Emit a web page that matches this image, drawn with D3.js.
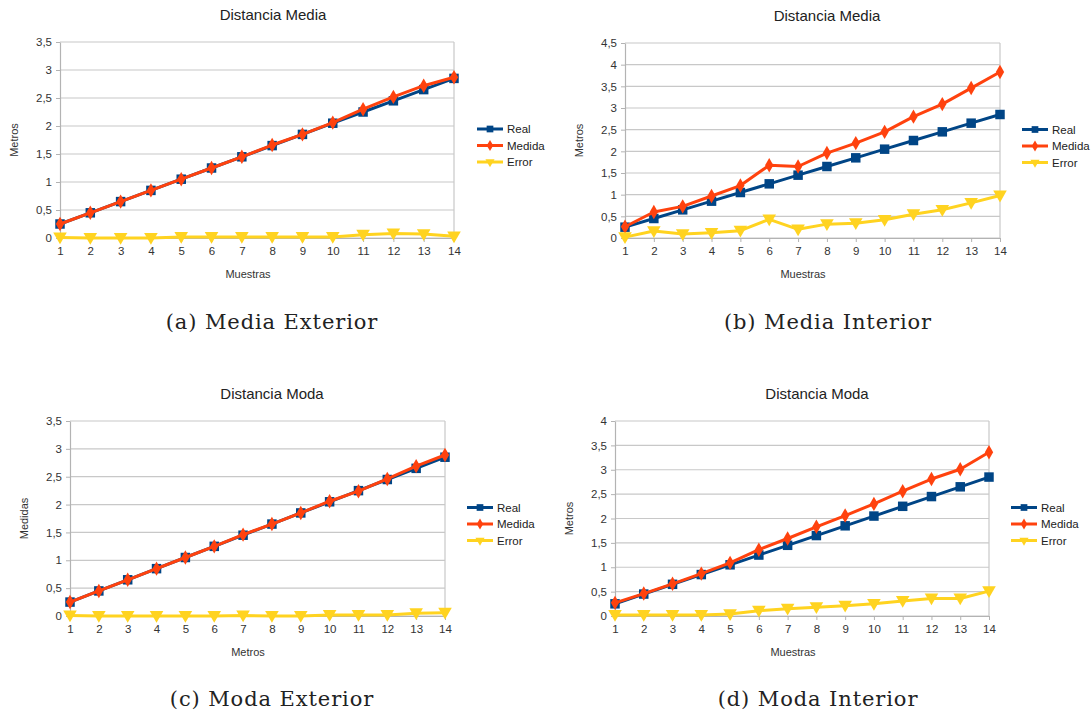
<!DOCTYPE html>
<html>
<head>
<meta charset="utf-8">
<script src="https://cdn.jsdelivr.net/npm/d3@7"></script>
<style>
  body { margin: 0; background: #fff; }
  svg { display: block; }
</style>
</head>
<body>
<div id="chart"></div>
<script>
// Datos
const muestras = [1, 2, 3, 4, 5, 6, 7, 8, 9, 10, 11, 12, 13, 14];
const real = [0.25, 0.45, 0.65, 0.85, 1.05, 1.25, 1.45, 1.65, 1.85, 2.05, 2.25, 2.45, 2.65, 2.85];

const medidaMediaExt = [0.25, 0.45, 0.65, 0.85, 1.05, 1.25, 1.45, 1.66, 1.85, 2.06, 2.30, 2.52, 2.72, 2.87];
const errorMediaExt  = [0.01, 0.00, 0.00, 0.00, 0.02, 0.02, 0.02, 0.02, 0.02, 0.02, 0.06, 0.08, 0.07, 0.03];

const medidaMediaInt = [0.26, 0.60, 0.73, 0.97, 1.21, 1.68, 1.65, 1.96, 2.19, 2.45, 2.80, 3.09, 3.46, 3.83];
const errorMediaInt  = [0.02, 0.16, 0.09, 0.12, 0.17, 0.43, 0.20, 0.32, 0.34, 0.42, 0.55, 0.65, 0.81, 0.98];

const medidaModaExt = [0.25, 0.45, 0.65, 0.85, 1.05, 1.25, 1.46, 1.65, 1.85, 2.06, 2.24, 2.46, 2.69, 2.89];
const errorModaExt  = [0.01, 0.00, 0.00, 0.00, 0.00, 0.00, 0.01, 0.00, 0.00, 0.02, 0.02, 0.02, 0.05, 0.06];

const medidaModaInt = [0.27, 0.46, 0.66, 0.87, 1.09, 1.36, 1.59, 1.83, 2.06, 2.30, 2.56, 2.81, 3.01, 3.36];
const errorModaInt  = [0.02, 0.02, 0.02, 0.02, 0.04, 0.11, 0.15, 0.18, 0.21, 0.25, 0.31, 0.36, 0.36, 0.51];

const ticksHasta35 = [0, 0.5, 1, 1.5, 2, 2.5, 3, 3.5];
const ticksHasta45 = [0, 0.5, 1, 1.5, 2, 2.5, 3, 3.5, 4, 4.5];
const ticksHasta4  = [0, 0.5, 1, 1.5, 2, 2.5, 3, 3.5, 4];

const nombresSeries = ["Real", "Medida", "Error"];
const colores = ["#004586", "#ff420e", "#ffd320"];
const simbolos = [d3.symbolSquare, d3.symbolDiamond, d3.symbolTriangle];

const paneles = [
    { titulo: "Distancia Media", ejeX: "Muestras", ejeY: "Metros", pie: "(a) Media Exterior",
      medida: medidaMediaExt, error: errorMediaExt, ticks: ticksHasta35,
      left: 60, right: 454, top: 42, bottom: 238, tituloX: 273, ejeXx: 248, ejeYx: 18, leyX: 477, pieX: 272, pieY: 329 },
    { titulo: "Distancia Media", ejeX: "Muestras", ejeY: "Metros", pie: "(b) Media Interior",
      medida: medidaMediaInt, error: errorMediaInt, ticks: ticksHasta45,
      left: 625, right: 1000, top: 43, bottom: 238, tituloX: 827, ejeXx: 803, ejeYx: 583, leyX: 1022, pieX: 828, pieY: 329 },
    { titulo: "Distancia Moda", ejeX: "Metros", ejeY: "Medidas", pie: "(c) Moda Exterior",
      medida: medidaModaExt, error: errorModaExt, ticks: ticksHasta35,
      left: 70, right: 445, top: 421, bottom: 616, tituloX: 272, ejeXx: 248, ejeYx: 28, leyX: 467, pieX: 272, pieY: 706 },
    { titulo: "Distancia Moda", ejeX: "Muestras", ejeY: "Metros", pie: "(d) Moda Interior",
      medida: medidaModaInt, error: errorModaInt, ticks: ticksHasta4,
      left: 615, right: 989, top: 421, bottom: 616, tituloX: 817, ejeXx: 793, ejeYx: 573, leyX: 1011, pieX: 818, pieY: 706 }
];

const svg = d3.select("#chart").append("svg")
    .attr("width", 1091)
    .attr("height", 717)
    .style("font-family", "'Liberation Sans', Arial, sans-serif");

const fmt = v => String(v).replace(".", ",");

paneles.forEach(p => drawPanel(p));

function drawPanel(p) {
    const g = svg.append("g");
    const x = d3.scalePoint().domain(muestras).range([p.left, p.right]);
    const y = d3.scaleLinear().domain([0, d3.max(p.ticks)]).range([p.bottom, p.top]);

    // rejilla
    g.selectAll(".grid").data(p.ticks).enter().append("line")
        .attr("x1", p.left).attr("x2", p.right)
        .attr("y1", d => y(d)).attr("y2", d => y(d))
        .attr("stroke", "#c8c8c8").attr("stroke-width", 1.2);
    g.append("line")
        .attr("x1", p.right).attr("x2", p.right)
        .attr("y1", p.top).attr("y2", p.bottom)
        .attr("stroke", "#c8c8c8").attr("stroke-width", 1.2);

    // ejes
    const ay = g.append("g")
        .attr("transform", `translate(${p.left},0)`)
        .call(d3.axisLeft(y).tickValues(p.ticks).tickFormat(fmt).tickSizeInner(4).tickSizeOuter(0).tickPadding(4));
    const ax = g.append("g")
        .attr("transform", `translate(0,${p.bottom})`)
        .call(d3.axisBottom(x).tickSizeInner(4).tickSizeOuter(0).tickPadding(5));
    [ay, ax].forEach(a => {
        a.select(".domain").attr("stroke", "#b3b3b3").attr("stroke-width", 1.2);
        a.selectAll(".tick line").attr("stroke", "#b3b3b3");
        a.selectAll("text").attr("fill", "#333").style("font-size", "11.5px")
            .style("font-family", "'Liberation Sans', Arial, sans-serif");
    });

    // títulos
    g.append("text")
        .attr("x", p.tituloX).attr("y", p.top - 22)
        .attr("text-anchor", "middle")
        .style("font-size", "15px").attr("fill", "#222")
        .text(p.titulo);
    g.append("text")
        .attr("x", p.ejeXx).attr("y", p.bottom + 40)
        .attr("text-anchor", "middle")
        .style("font-size", "11px").attr("fill", "#333")
        .text(p.ejeX);
    g.append("text")
        .attr("transform", `translate(${p.ejeYx},${(p.top + p.bottom) / 2}) rotate(-90)`)
        .attr("text-anchor", "middle")
        .style("font-size", "11px").attr("fill", "#333")
        .text(p.ejeY);

    // series
    const series = [real, p.medida, p.error];
    const line = d3.line().x((d, i) => x(muestras[i])).y(d => y(d));
    series.forEach((vals, k) => {
        g.append("path")
            .datum(vals)
            .attr("d", line)
            .attr("fill", "none")
            .attr("stroke", colores[k])
            .attr("stroke-width", 3)
            .attr("stroke-linejoin", "round");
        const sym = d3.symbol().type(simbolos[k]).size(k === 0 ? 90 : k === 1 ? 60 : 80);
        g.selectAll(null).data(vals).enter().append("path")
            .attr("d", sym)
            .attr("transform", (d, i) => `translate(${x(muestras[i])},${y(d) - (k === 2 ? 1 : 0)})` + (k === 2 ? " rotate(180)" : ""))
            .attr("fill", colores[k]);
    });

    // leyenda
    const midY = (p.top + p.bottom) / 2;
    nombresSeries.forEach((nombre, k) => {
        const ly = midY - 11 + k * 16.5;
        g.append("line")
            .attr("x1", p.leyX).attr("x2", p.leyX + 26)
            .attr("y1", ly).attr("y2", ly)
            .attr("stroke", colores[k]).attr("stroke-width", 3);
        g.append("path")
            .attr("d", d3.symbol().type(simbolos[k]).size(k === 0 ? 45 : 36))
            .attr("transform", `translate(${p.leyX + 13},${ly})` + (k === 2 ? " rotate(180)" : ""))
            .attr("fill", colores[k]);
        g.append("text")
            .attr("x", p.leyX + 30).attr("y", ly + 4)
            .style("font-size", "11.5px").attr("fill", "#222")
            .text(nombre);
    });

    // pie de figura
    svg.append("text")
        .attr("x", p.pieX).attr("y", p.pieY)
        .attr("text-anchor", "middle")
        .style("font-family", "'DejaVu Serif', serif")
        .style("font-size", "21px")
        .style("letter-spacing", "0.9px")
        .attr("fill", "#222")
        .text(p.pie);
}
</script>
</body>
</html>
